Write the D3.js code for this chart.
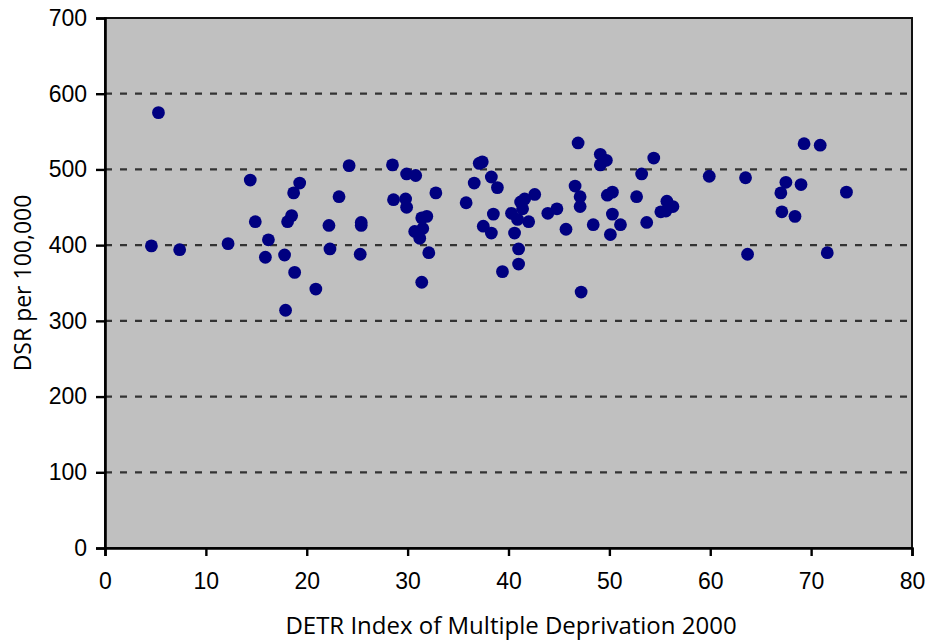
<!DOCTYPE html>
<html>
<head>
<meta charset="utf-8">
<script src="https://cdn.jsdelivr.net/npm/d3@7"></script>
<style>
  body { margin: 0; background: #fff; }
  svg { display: block; font-family: "Open Sans", sans-serif; }
  .axis text { font-size: 23px; fill: #000; }
</style>
</head>
<body>
<div class="container"></div>
<script>
// IMD score (x) and DSR per 100,000 (y)
const imdScores = [
  4.6, 5.3, 7.4, 12.2, 14.4, 14.9, 15.9, 16.2, 17.8, 17.9,
  18.1, 18.5, 18.7, 18.8, 19.3, 20.9, 22.2, 22.3, 23.2, 24.2,
  25.4, 25.4, 25.3, 28.5, 28.6, 29.8, 29.9, 29.9, 30.8, 30.7,
  31.2, 31.4, 31.5, 31.9, 31.4, 32.1, 32.8, 35.8, 36.6, 37.1,
  37.4, 37.5, 38.3, 38.3, 38.5, 38.9, 39.4, 40.3, 40.6, 40.9,
  41.0, 41.0, 41.2, 41.4, 41.6, 42.0, 42.6, 43.9, 44.8, 45.7,
  46.6, 46.9, 47.1, 47.1, 47.2, 48.4, 49.1, 49.1, 49.7, 49.8,
  50.3, 50.3, 50.1, 51.1, 52.7, 53.2, 53.7, 54.4, 55.1, 55.6,
  55.7, 56.3, 59.9, 63.5, 63.7, 67.0, 67.1, 67.5, 68.4, 69.0,
  69.3, 70.9, 71.6, 73.5
];
const dsrValues = [
  399, 575, 394, 402, 486, 431, 384, 407, 387, 314,
  431, 439, 469, 364, 482, 342, 426, 395, 464, 505,
  430, 426, 388, 506, 460, 461, 450, 494, 492, 418,
  409, 436, 422, 438, 351, 390, 469, 456, 482, 508,
  510, 425, 490, 416, 441, 476, 365, 442, 416, 434,
  395, 375, 457, 448, 461, 431, 467, 442, 448, 421,
  478, 535, 464, 451, 338, 427, 520, 506, 512, 466,
  470, 441, 414, 427, 464, 494, 430, 515, 444, 445,
  458, 451, 491, 489, 388, 469, 444, 483, 438, 480,
  534, 532, 390, 470
];
const xTicks = [0, 10, 20, 30, 40, 50, 60, 70, 80];
const yTicks = [0, 100, 200, 300, 400, 500, 600, 700];

const data = imdScores.map((x, i) => ({ x: x, y: dsrValues[i] }));

const margin = { top: 18, right: 16, bottom: 94, left: 105 };
const fullWidth = 928;
const fullHeight = 642;
const width = fullWidth - margin.left - margin.right;
const height = fullHeight - margin.top - margin.bottom;

const svg = d3
  .select(".container")
  .append("svg")
  .attr("width", fullWidth)
  .attr("height", fullHeight);

const g = svg
  .append("g")
  .attr("transform", `translate(${margin.left},${margin.top})`);

const xScale = d3.scaleLinear().domain([0, 80]).range([0, width]);
const yScale = d3.scaleLinear().domain([0, 700]).range([height, 0]);

// plot background
g.append("rect")
  .attr("width", width)
  .attr("height", height)
  .attr("fill", "#c0c0c0")
  .attr("stroke", "#111")
  .attr("stroke-width", 2);

// dashed horizontal grid lines
g.selectAll("line.grid")
  .data(yTicks.filter(d => d > 0 && d < 700))
  .join("line")
  .attr("class", "grid")
  .attr("x1", 0)
  .attr("x2", width)
  .attr("y1", d => yScale(d))
  .attr("y2", d => yScale(d))
  .attr("stroke", "#333")
  .attr("stroke-width", 2.2)
  .attr("stroke-dasharray", "7,8");

// points
g.selectAll("circle")
  .data(data)
  .join("circle")
  .attr("cx", d => xScale(d.x))
  .attr("cy", d => yScale(d.y))
  .attr("r", 6.4)
  .attr("fill", "#000080");

// axes
const xAxis = g
  .append("g")
  .attr("class", "axis")
  .attr("transform", `translate(0,${height})`)
  .call(d3.axisBottom(xScale).tickValues(xTicks).tickSize(8).tickPadding(17));

const yAxis = g
  .append("g")
  .attr("class", "axis")
  .call(d3.axisLeft(yScale).tickValues(yTicks).tickSize(9).tickPadding(9));

[xAxis, yAxis].forEach(a => {
  a.select(".domain").attr("stroke", "#000").attr("stroke-width", 2.6);
  a.selectAll(".tick line").attr("stroke", "#000").attr("stroke-width", 2.4);
});

// axis titles
svg
  .append("text")
  .attr("x", 511)
  .attr("y", 634)
  .attr("text-anchor", "middle")
  .attr("font-size", 24)
  .text("DETR Index of Multiple Deprivation 2000");

svg
  .append("text")
  .attr("transform", "translate(31,283) rotate(-90)")
  .attr("text-anchor", "middle")
  .attr("font-size", 23)
  .text("DSR per 100,000");
</script>
</body>
</html>
